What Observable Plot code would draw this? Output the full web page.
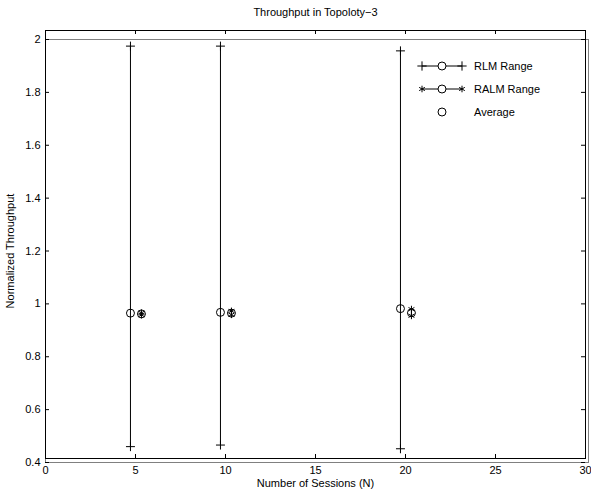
<!DOCTYPE html>
<html>
<head>
<meta charset="utf-8">
<script src="https://cdn.jsdelivr.net/npm/d3@7"></script>
<script src="https://cdn.jsdelivr.net/npm/@observablehq/plot@0.6"></script>
<style>
  html, body { margin: 0; padding: 0; background: #fff; }
  #wrap { position: relative; width: 591px; height: 489px; font-family: "Liberation Sans", Arial, sans-serif; }
  #legend { position: absolute; left: 0; top: 0; pointer-events: none; }
</style>
</head>
<body>
<div id="wrap"></div>
<script>
// ---- data ----
const sessions = [5, 10, 20];
const rlmX    = [4.72, 9.72, 19.72];
const rlmMax  = [1.975, 1.975, 1.957];
const rlmMin  = [0.46, 0.466, 0.452];
const rlmAvg  = [0.965, 0.968, 0.982];
const ralmX   = [5.33, 10.33, 20.33];
const ralmMax = [0.966, 0.973, 0.98];
const ralmMin = [0.958, 0.959, 0.955];
const ralmAvg = [0.962, 0.965, 0.966];
const xTicks = [0, 5, 10, 15, 20, 25, 30];
const yTicks = [0.4, 0.6, 0.8, 1.0, 1.2, 1.4, 1.6, 1.8, 2.0];
const titleText = "Throughput in Topoloty\u22123";
const xLabel = "Number of Sessions (N)";
const yLabel = "Normalized Throughput";
const legendLabels = ["RLM Range", "RALM Range", "Average"];

const idx = sessions.map((_, i) => i);
const FONT = "Liberation Sans, Arial, sans-serif";
const FS = 11;

const plot = Plot.plot({
  width: 591,
  height: 489,
  marginTop: 39,
  marginBottom: 27,
  marginLeft: 45,
  marginRight: 6,
  style: { fontFamily: FONT, fontSize: FS + "px", color: "#000", background: "#fff", overflow: "visible" },
  x: { domain: [0, 30] },
  y: { domain: [0.4, 2.0] },
  marks: [
    // gray inner box and black outer axes box
    Plot.frame({ stroke: "#808080", strokeWidth: 1, insetRight: -3 }),
    Plot.frame({ stroke: "#000", strokeWidth: 1, insetTop: -9, insetBottom: 4 }),
    // inward ticks
    Plot.tickX(xTicks, { x: d => d, stroke: "#000", insetTop: 415, insetBottom: 4 }),
    Plot.tickX(xTicks, { x: d => d, stroke: "#000", insetTop: -9, insetBottom: 428 }),
    Plot.tickY(yTicks, { y: d => d, stroke: "#000", insetLeft: 0, insetRight: 536 }),
    Plot.tickY(yTicks, { y: d => d, stroke: "#000", insetLeft: 536, insetRight: 0 }),
    Plot.axisX({ ticks: xTicks, tickSize: 0, tickPadding: 4, label: null, tickFormat: d => String(d), fontSize: FS }),
    Plot.axisY({ ticks: yTicks, tickSize: 0, tickPadding: 5, label: null, tickFormat: d => String(+d.toFixed(1)), fontSize: FS }),
    // RLM range
    Plot.ruleX(idx, { x: i => rlmX[i], y1: i => rlmMin[i], y2: i => rlmMax[i], stroke: "#000", strokeWidth: 1 }),
    Plot.dot(idx, { x: i => rlmX[i], y: i => rlmMax[i], symbol: "plus", r: 3, stroke: "#000", strokeWidth: 1 }),
    Plot.dot(idx, { x: i => rlmX[i], y: i => rlmMin[i], symbol: "plus", r: 3, stroke: "#000", strokeWidth: 1 }),
    Plot.dot(idx, { x: i => rlmX[i], y: i => rlmAvg[i], symbol: "circle", r: 4, stroke: "#000", fill: "none", strokeWidth: 1 }),
    // RALM range
    Plot.ruleX(idx, { x: i => ralmX[i], y1: i => ralmMin[i], y2: i => ralmMax[i], stroke: "#000", strokeWidth: 1 }),
    Plot.dot(idx, { x: i => ralmX[i], y: i => ralmMax[i], symbol: "asterisk", r: 3.2, stroke: "#000", strokeWidth: 1 }),
    Plot.dot(idx, { x: i => ralmX[i], y: i => ralmMin[i], symbol: "asterisk", r: 3.2, stroke: "#000", strokeWidth: 1 }),
    Plot.dot(idx, { x: i => ralmX[i], y: i => ralmAvg[i], symbol: "circle", r: 4, stroke: "#000", fill: "none", strokeWidth: 1 }),
    // texts
    Plot.text([titleText], { text: d => d, frameAnchor: "top", lineAnchor: "middle", textAnchor: "middle", dy: -27, fontSize: FS, fill: "#000" }),
    Plot.text([xLabel], { text: d => d, frameAnchor: "bottom", lineAnchor: "middle", textAnchor: "middle", dy: 21, fontSize: FS, fill: "#000" }),
    Plot.text([yLabel], { text: d => d, frameAnchor: "left", lineAnchor: "middle", textAnchor: "middle", dx: -35, rotate: -90, fontSize: FS, fill: "#000" })
  ]
});

const wrap = document.getElementById("wrap");
wrap.appendChild(plot);

// legend overlay
const lg = d3.select(wrap).append("svg")
  .attr("id", "legend").attr("width", 591).attr("height", 489)
  .style("font-family", FONT).style("font-size", FS + "px");
const rowY = [66, 89, 112];
const syms = [d3.symbolPlus, d3.symbolAsterisk, null];
legendLabels.forEach((lab, i) => {
  const g = lg.append("g").attr("transform", `translate(0,${rowY[i]})`);
  if (syms[i]) {
    g.append("line").attr("x1", 422).attr("x2", 462).attr("y1", 0).attr("y2", 0).attr("stroke", "#000");
    [422, 462].forEach(x => g.append("path").attr("d", d3.symbol(syms[i], 30)()).attr("transform", `translate(${x},0)`).attr("fill", "none").attr("stroke", "#000"));
  }
  g.append("circle").attr("cx", 442).attr("cy", 0).attr("r", 4).attr("fill", "#fff").attr("stroke", "#000");
  g.append("text").attr("x", 474).attr("y", 0).attr("dy", "0.35em").attr("fill", "#000").text(lab);
});
</script>
</body>
</html>
